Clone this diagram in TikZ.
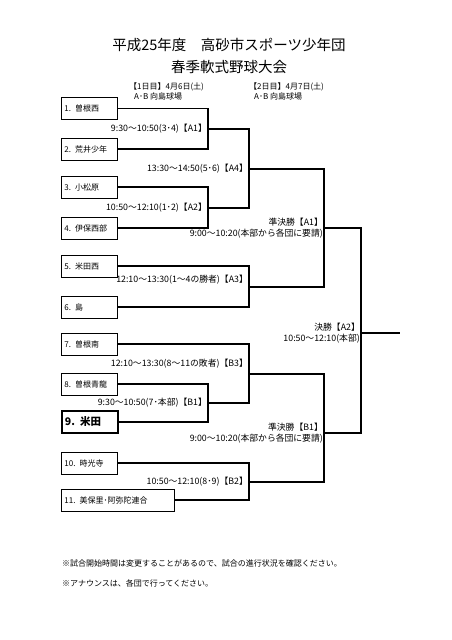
\documentclass[tikz,border=0pt]{standalone}
\usepackage{fontspec}
\setmainfont{Noto Sans CJK JP}
\usetikzlibrary{positioning}

\begin{document}
\begin{tikzpicture}[x=1pt,y=-1pt,
    team/.style={draw, line width=0.8pt, anchor=west, minimum height=22pt, text width=50pt, inner xsep=3pt, align=left, font=\fontsize{8}{9}\selectfont},
    teamwide/.style={team, text width=107pt},
    teamseed/.style={team, line width=1.8pt, font=\fontsize{10.5}{12}\selectfont\bfseries},
    bracket/.style={line width=1.2pt},
    gamelbl/.style={left, inner sep=1pt, align=right, font=\fontsize{8.8}{10.5}\selectfont},
    note/.style={anchor=west, inner sep=0pt, font=\fontsize{8}{9}\selectfont}]
        \useasboundingbox (0,0) rectangle (452,640);

        \node (title) at (229,45) {\fontsize{14.5}{16}\selectfont 平成25年度\hspace{1em}高砂市スポーツ少年団};
        \node (event) at (229,67) {\fontsize{14.5}{16}\selectfont 春季軟式野球大会};
        \node[note] (day1) at (129,87) {【1日目】4月6日(土)};
        \node[note] (field1) at (134,96) {A･B\ 向島球場};
        \node[note] (day2) at (249,87) {【2日目】4月7日(土)};
        \node[note] (field2) at (254,96) {A･B\ 向島球場};

        \node[team] (t1) at (61,108.5) {1. 曽根西};
        \node[team] (t2) at (61,149) {2. 荒井少年};
        \node[team] (t3) at (61,187) {3. 小松原};
        \node[team] (t4) at (61,228) {4. 伊保西部};
        \node[team] (t5) at (61,266) {5. 米田西};
        \node[team] (t6) at (61,307) {6. 島};
        \node[team] (t7) at (61,344) {7. 曽根南};
        \node[team] (t8) at (61,384) {8. 曽根青龍};
        \node[teamseed] (t9) at (61,422) {9. 米田};
        \node[team] (t10) at (61,463) {10. 時光寺};
        \node[teamwide] (t11) at (61,500) {11. 美保里･阿弥陀連合};

        \coordinate (a1) at (208,129);
        \coordinate (a2) at (208,208);
        \coordinate (a4) at (249,169);
        \coordinate (a3) at (249,287);
        \coordinate (sa) at (324,228);
        \coordinate (b1) at (208,403);
        \coordinate (b3) at (249,374);
        \coordinate (b2) at (249,482);
        \coordinate (sb) at (324,433);
        \coordinate (fin) at (361,333);
        \coordinate (win) at (400,333);

        \draw[bracket] (t1.east) -| (a1) |- (t2.east);
        \draw[bracket] (t3.east) -| (a2) |- (t4.east);
        \draw[bracket] (a1) -| (a4) |- (a2);
        \draw[bracket] (t5.east) -| (a3) |- (t6.east);
        \draw[bracket] (a4) -| (sa) |- (a3);
        \draw[bracket] (t8.east) -| (b1) |- (t9.east);
        \draw[bracket] (t7.east) -| (b3) |- (b1);
        \draw[bracket] (t10.east) -| (b2) |- (t11.east);
        \draw[bracket] (b3) -| (sb) |- (b2);
        \draw[bracket] (sa) -| (fin) |- (sb);
        \draw[bracket] (fin) -- (win);

        %
        \node[gamelbl] (la1) at (a1) {9:30～10:50(3･4)【A1】};
        \node[gamelbl] (la2) at (a2) {10:50～12:10(1･2)【A2】};
        \node[gamelbl] (la4) at (a4) {13:30～14:50(5･6)【A4】};
        \node[gamelbl, yshift=7pt] (la3) at (a3) {12:10～13:30(1～4の勝者)【A3】};
        \node[gamelbl] (lsa) at (sa) {準決勝【A1】\\9:00～10:20(本部から各団に要請)};
        \node[gamelbl] (lfin) at (fin) {決勝【A2】\\10:50～12:10(本部)};
        \node[gamelbl, yshift=10pt] (lb3) at (b3) {12:10～13:30(8～11の敗者)【B3】};
        \node[gamelbl] (lb1) at (b1) {9:30～10:50(7･本部)【B1】};
        \node[gamelbl] (lsb) at (sb) {準決勝【B1】\\9:00～10:20(本部から各団に要請)};
        \node[gamelbl] (lb2) at (b2) {10:50～12:10(8･9)【B2】};

        \node[note] (memo1) at (62,563) {※試合開始時間は変更することがあるので、試合の進行状況を確認ください。};
        \node[note] (memo2) at (62,583) {※アナウンスは、各団で行ってください。};
    \end{tikzpicture}
\end{document}
